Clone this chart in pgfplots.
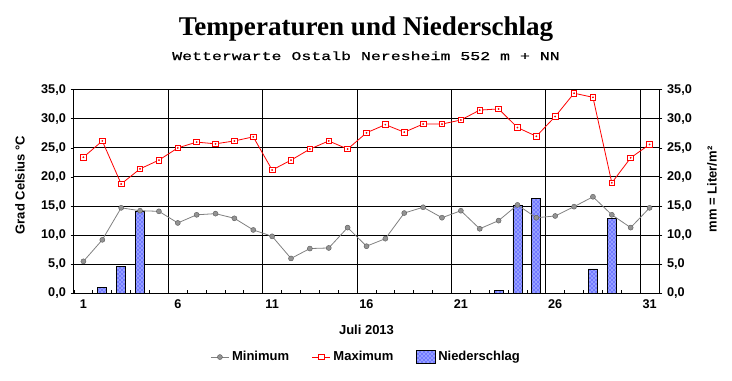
\documentclass[border=0pt]{standalone}
\usepackage{pgfplots}
\pgfplotsset{compat=1.18}
\usetikzlibrary{patterns}
\usepackage{fontspec}
\setmainfont{Liberation Sans}
\newfontfamily\titlefont{Liberation Serif}
\newfontfamily\subfont[FakeStretch=1.38,FakeBold=0.8]{Liberation Mono}

\pgfplotsset{
  shortline/.style={legend image code/.code={\draw[mark repeat=2,mark phase=2,##1] plot coordinates {(0cm,0cm) (0.24cm,0cm) (0.48cm,0cm)};}},
  boxlegend/.style={legend image code/.code={\draw[##1] (0pt,-4.5pt) rectangle (14pt,5pt);}},
}

\pgfplotstableread{
day min max
1 5.5 23.4
2 9.2 26.2
3 14.7 18.8
4 14.2 21.4
5 14.1 22.9
6 12.1 25.0
7 13.5 26.0
8 13.7 25.7
9 12.9 26.2
10 10.9 26.9
11 9.8 21.2
12 6.0 22.9
13 7.7 24.8
14 7.8 26.2
15 11.3 24.8
16 8.1 27.6
17 9.4 29.0
18 13.8 27.7
19 14.8 29.1
20 13.0 29.1
21 14.2 29.8
22 11.1 31.5
23 12.5 31.7
24 15.2 28.5
25 13.0 27.0
26 13.3 30.4
27 14.9 34.4
28 16.6 33.7
29 13.5 19.0
30 11.3 23.3
31 14.7 25.6
}\temps

\pgfplotstableread{
day rain
2 1.0
3 4.6
4 14.1
23 0.5
24 15.1
25 16.3
28 4.2
29 12.9
}\rain

\definecolor{mingray}{RGB}{128,128,128}
\definecolor{barblue}{RGB}{0,0,255}
\definecolor{barfill}{RGB}{150,160,255}

\begin{document}
\begin{tikzpicture}
\path[use as bounding box] (0,0) rectangle (549pt,285pt);
\node[anchor=base, font=\titlefont\bfseries\fontsize{20.3}{24}\selectfont] at (274.5pt,258.2pt) {Temperaturen und Niederschlag};
\node[anchor=base, font=\subfont\fontsize{9}{11}\selectfont] at (274.5pt,240pt) {Wetterwarte Ostalb Neresheim 552 m + NN};

\begin{axis}[
  at={(55.5pt,65pt)}, anchor=south west, scale only axis,
  width=438.75pt, height=152.7pt,
  xmin=0.5, xmax=31.5, ymin=0, ymax=35,
  axis line style={black, line width=0.75pt},
  xtick={1,6,11,16,21,26,31},
  major x tick style={draw=none},
  minor xtick={0.5,1.5,...,31.5},
  minor tick length=2.6pt,
  major tick length=2.6pt,
  xtick align=inside, ytick align=outside,
  xtick pos=bottom, ytick pos=left,
  ytick={0,5,...,35},
  tick style={black, line width=0.6pt},
  ymajorgrids=true,
  major grid style={black, line width=0.75pt},
  extra x ticks={5.5,10.5,15.5,20.5,25.5,30.5},
  extra x tick labels={},
  extra x tick style={grid=major},
  /pgf/number format/assume math mode=true,
  yticklabel style={/pgf/number format/.cd, fixed, fixed zerofill, precision=1, use comma},
  ticklabel style={font=\bfseries\fontsize{9.5}{11}\selectfont},
  xticklabel style={yshift=-1pt},
  ylabel={Grad Celsius °C},
  ylabel style={at={(axis description cs:-0.0923,0.532)}, anchor=center, font=\bfseries\fontsize{9.75}{11}\selectfont},
  xlabel={Juli 2013},
  xlabel style={at={(axis description cs:0.5,-0.18)}, anchor=center, font=\bfseries\fontsize{9.75}{11}\selectfont},
  legend columns=3,
  legend style={at={(axis description cs:0.5,-0.313)}, anchor=center, draw=none, fill=none,
    font=\bfseries\fontsize{9.75}{11}\selectfont,
    /tikz/every even column/.append style={column sep=15pt}},
  shortline,
]
\addplot[ybar, bar width=6.75pt, draw=black, line width=0.6pt, fill=barfill,
  postaction={pattern=crosshatch dots, pattern color=barblue}, forget plot] table[x=day,y=rain] {\rain};
\addplot[mingray, line width=0.6pt, mark=*, mark size=1.9pt,
  mark options={fill=mingray!85, draw=mingray!70!black, line width=0.3pt}] table[x=day,y=min] {\temps};
\addplot[red, line width=0.6pt, mark=square*, mark size=2.1pt,
  mark options={fill=white, draw=red, line width=0.6pt}] table[x=day,y=max] {\temps};
\addplot[only marks, red, mark=*, mark size=0.45pt, forget plot] table[x=day,y=max] {\temps};
\addlegendimage{boxlegend, draw=black, line width=0.6pt, fill=barfill, postaction={pattern=crosshatch dots, pattern color=barblue}}
\legend{Minimum, Maximum, Niederschlag}
\end{axis}

\begin{axis}[
  at={(55.5pt,65pt)}, anchor=south west, scale only axis,
  width=438.75pt, height=152.7pt,
  xmin=0.5, xmax=31.5, ymin=0, ymax=35,
  axis x line=none, axis y line*=right,
  axis line style={black, line width=0.75pt},
  ytick={0,5,...,35},
  ytick align=outside, major tick length=2.6pt,
  tick style={black, line width=0.6pt},
  /pgf/number format/assume math mode=true,
  yticklabel style={/pgf/number format/.cd, fixed, fixed zerofill, precision=1, use comma},
  ticklabel style={font=\bfseries\fontsize{9.5}{11}\selectfont},
  ylabel={mm = Liter/m²},
  ylabel style={at={(axis description cs:1.0906,0.511)}, anchor=center, font=\bfseries\fontsize{9.75}{11}\selectfont},
]
\addplot[draw=none, forget plot] coordinates {(1,0)};
\end{axis}
\end{tikzpicture}
\end{document}
